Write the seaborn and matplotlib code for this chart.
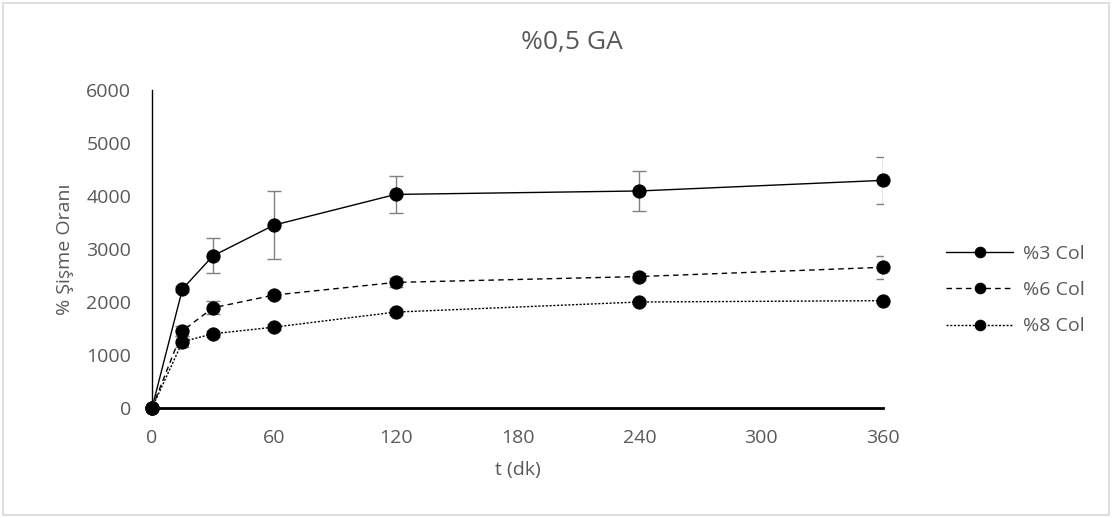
import matplotlib
matplotlib.use("Agg")
import matplotlib.pyplot as plt
import seaborn as sns
import pandas as pd
from matplotlib.patches import Rectangle

t_values = [0, 15, 30, 60, 120, 240, 360]
series_names = ["%3 Col", "%6 Col", "%8 Col"]
col3 = [0, 2245, 2870, 3450, 4030, 4095, 4295]
col3_err = [0, 60, 330, 640, 350, 385, 445]
col6 = [0, 1455, 1890, 2130, 2370, 2480, 2655]
col6_err = [0, 90, 125, 60, 80, 60, 220]
col8 = [0, 1250, 1400, 1525, 1810, 2000, 2025]
col8_err = [0, 100, 60, 60, 50, 40, 40]
x_ticks = [0, 60, 120, 180, 240, 300, 360]
y_ticks = [0, 1000, 2000, 3000, 4000, 5000, 6000]

sns.set_style("white")
plt.rcParams['font.family'] = ['Open Sans', 'DejaVu Sans']

rows = []
for name, vals, errs in zip(series_names, [col3, col6, col8], [col3_err, col6_err, col8_err]):
    for t, v, e in zip(t_values, vals, errs):
        rows.append({"t": t, "value": v, "err": e, "series": name})
df = pd.DataFrame(rows)

W, H = 1113, 518
fig = plt.figure(figsize=(W / 100, H / 100), dpi=100)
ax = fig.add_axes([152 / W, 1 - 408 / H, 731 / W, 318 / H])

styles = {"%3 Col": "-", "%6 Col": (0, (4, 3)), "%8 Col": (0, (1.5, 1.2))}
for name in series_names:
    d = df[df["series"] == name]
    ax.errorbar(d["t"], d["value"], yerr=d["err"], fmt="none", ecolor="#808080",
                elinewidth=1.0, capsize=4.8, capthick=1.0, zorder=2)
    sns.lineplot(data=d, x="t", y="value", ax=ax, color="black", linewidth=1.0,
                 linestyle=styles[name], marker="o", markersize=9.5,
                 markeredgecolor="black", markerfacecolor="black", label=name,
                 zorder=3, clip_on=False)

ax.set_xlim(0, 360)
ax.set_ylim(0, 6000)
ax.set_xticks(x_ticks)
ax.set_yticks(y_ticks)
ax.tick_params(axis="x", length=0, labelsize=14, labelcolor="#595959", pad=15)
ax.tick_params(axis="y", length=0, labelsize=14, labelcolor="#595959", pad=15)
for s in ["top", "right"]:
    ax.spines[s].set_visible(False)
ax.spines["left"].set_color("black")
ax.spines["left"].set_linewidth(1.0)
ax.spines["bottom"].set_color("black")
ax.spines["bottom"].set_linewidth(2.0)

ax.set_xlabel("t (dk)", fontsize=14, color="#595959", labelpad=10)
ax.set_ylabel("% Şişme Oranı", fontsize=14, color="#595959", labelpad=9)
fig.text(572 / W, 1 - 42 / H, "%0,5 GA", ha="center", va="center", fontsize=19, color="#595959")

leg = ax.legend(loc="center left", bbox_to_anchor=(946 / W, 1 - 290 / H),
                bbox_transform=fig.transFigure, frameon=False, fontsize=14,
                handlelength=3.45, handletextpad=0.5, labelspacing=0.95,
                borderpad=0, borderaxespad=0, markerscale=0.8)
for txt in leg.get_texts():
    txt.set_color("#595959")

fig.patches.append(Rectangle((3 / W, 3 / H), 1106 / W, 512 / H, transform=fig.transFigure,
                             fill=False, edgecolor="#d9d9d9", linewidth=1.2))

fig.savefig("out.png", dpi=100)
